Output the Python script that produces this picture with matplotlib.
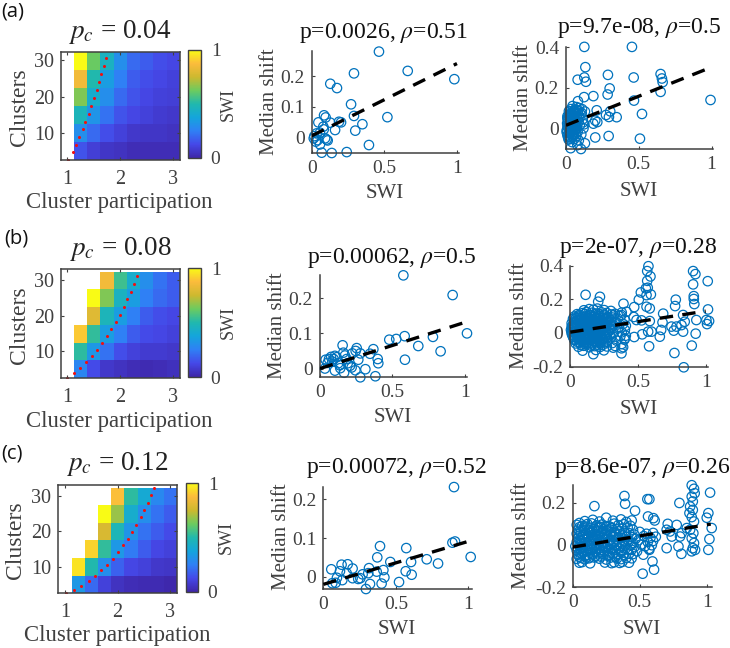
import matplotlib
matplotlib.use('Agg')
import matplotlib.pyplot as plt
from matplotlib.colors import LinearSegmentedColormap
import numpy as np

plt.rcParams['font.family'] = ['Liberation Serif', 'DejaVu Serif']
plt.rcParams['mathtext.fontset'] = 'stix'

W, H = 730, 648
nan = np.nan
parula = LinearSegmentedColormap.from_list('parula', [
    '#3e26a8', '#4548e8', '#2f80f5', '#14a5dc', '#20b8ae', '#6ccb5f', '#cdb92f', '#fbbb3c', '#f9fb15'])

# heatmaps, bottom row first
x_edges = [1.13, 1.38, 1.63, 1.88, 2.13, 2.38, 2.63, 2.88, 3.13]
y_edges = [2.6, 7.5, 12.5, 17.4, 22.3, 27.3, 32.2]
heat_a = [[.15, .09, .06, .05, .03, .03, .03, .03],
          [.30, .20, .14, .10, .07, .06, .06, .05],
          [.47, .32, .22, .15, .12, .10, .08, .07],
          [.65, .42, .30, .20, .15, .12, .10, .09],
          [.85, .50, .35, .25, .17, .14, .12, .10],
          [1.0, .62, .45, .30, .20, .17, .14, .12]]
heat_b = [[.27, .13, .07, .05, .03, .02, .03, .04],
          [.52, .33, .22, .14, .10, .08, .08, .07],
          [.90, .53, .35, .25, .17, .13, .12, .10],
          [nan, .80, .47, .35, .25, .17, .14, .12],
          [nan, 1.0, .65, .45, .35, .25, .20, .17],
          [nan, nan, .85, .55, .42, .30, .22, .17]]
heat_c = [[.33, .20, .10, .05, .03, .02, .02, .01],
          [.95, .50, .30, .18, .12, .10, .07, .06],
          [nan, .92, .53, .33, .24, .17, .12, .10],
          [nan, nan, .78, .48, .32, .22, .17, .13],
          [nan, nan, 1.0, .68, .42, .30, .22, .17],
          [nan, nan, nan, .88, .52, .40, .28, .22]]

# red dotted curves
red_a_x = [1.03, 1.11, 1.17, 1.23, 1.30, 1.35, 1.41, 1.46, 1.51, 1.56, 1.60, 1.65, 1.69, 1.73]
red_a_y = [2.7, 4.7, 6.8, 8.8, 11, 13.1, 15.3, 17.4, 19.6, 21.8, 24.1, 26.2, 28.4, 30.6]
red_b_x = [1.0, 1.13, 1.25, 1.36, 1.48, 1.57, 1.67, 1.76, 1.84, 1.92, 2.0, 2.07, 2.14, 2.2, 2.26, 2.32]
red_b_y = [2.65, 3.95, 5.5, 7.1, 8.8, 10.5, 12.4, 14.4, 16.3, 18.3, 20.3, 22.4, 24.5, 26.7, 28.8, 31]
red_c_x = [1.03, 1.18, 1.31, 1.45, 1.57, 1.69, 1.81, 1.92, 2.01, 2.11, 2.2, 2.28, 2.36, 2.44, 2.51, 2.57, 2.63, 2.69]
red_c_y = [2.5, 3.5, 4.6, 6, 7.4, 9, 10.6, 12.2, 14.1, 16, 17.8, 19.9, 21.8, 23.9, 25.9, 28, 30.2, 32.1]

# scatter data
a2_x = [.463, .291, .661, .982, .128, .174, .271, .085, .096, .291, .521, .046, .128, .349, .080, .188, .202,
        .161, .300, .083, .394, .069, .138, .241, .018, .034, .057, .014, .028, .057, .092, .110, .103, .041]
a2_y = [.280, .209, .217, .190, .175, .161, .108, .072, .065, .070, .066, .049, .048, .043, .035, .051, .049,
        .024, .022, .026, -.025, -.050, -.051, -.048, .004, .013, .015, -.003, -.014, -.023, -.003, -.010, -.007, -.009]

a3_x = [.126, .453, .133, .288, .650, .126, .465, .659, .080, .137, .664, .300, .124, .188, .286, .650, .467, .993,
        .082, .211, .304, .130, .275, .295, .348, .522, .201, .215, .188, .201, .293, .508, .130, .103, .032, .078,
        .005, .008, .010, .012, .015, .018, .020, .022, .025, .028, .030, .032, .035, .038, .040, .042, .045, .048,
        .050, .052, .055, .058, .060, .062, .065, .068, .070, .072, .075, .078, .080, .083, .085, .088, .090, .095,
        .100, .105, .110, .115, .120, .125, .010, .015, .020, .028, .036, .044, .052, .066, .074, .092, .108, .118,
        .005, .010, .015, .020, .025, .030, .035, .040, .045, .050, .055, .060, .065, .070, .075,
        .010, .020, .030, .040, .050, .060, .070, .015, .025, .035, .045, .055, .065, .020, .040]
a3_y = [.402, .402, .302, .264, .268, .251, .251, .246, .240, .230, .228, .197, .154, .159, .167, .180, .137, .140,
        .134, .089, .084, .083, .066, .056, .055, .071, .038, .031, .023, -.045, -.038, -.051, -.074, -.102, -.098, -.083,
        -.010, .025, -.035, .048, .005, -.055, .065, .018, -.022, .082, .032, -.045, .095, .000, .058, -.068, .110, .012,
        -.028, .075, .040, -.052, .092, -.008, .060, .022, -.040, .105, .002, .048, -.018, .085, .030, -.060, .100, .015,
        .070, -.030, .095, .045, .000, .020, .060, .038, -.015, .070, .010, -.040, .085, -.005, .090, .050, .075, .030,
        -.020, .010, .040, -.040, .030, .060, -.010, .020, -.030, .050, .000, .070, .030, -.020, .060,
        .050, -.025, .045, .005, -.010, .035, .010, -.045, .015, .075, .035, -.035, .080, .085, -.015]

b2_x = [.575, .915, 1.014, .584, .779, .526, .478, .678, .832, .586, .156, .253, .368, .345, .398, .402, .278, .223,
        .161, .172, .246, .264, .039, .076, .103, .115, .053, .126, .184, .207, .218, .136, .103, .140, .034, .244,
        .313, .166, .278, .382, .085, .062, .191, .094]
b2_y = [.265, .209, .100, .092, .090, .084, .082, .064, .049, .025, .066, .058, .055, .042, .027, .015, .043, .043,
        .045, .037, .050, .025, .025, .033, .036, .032, .016, .015, .027, .008, .003, .009, -.006, .001, .000, -.005,
        -.002, -.012, -.025, -.022, .020, .027, .015, .027]

b3_x = [.577, .907, .924, .568, .592, .568, 1.015, .907, .572, .558, .521, .595, .563, .506, .912, .912, .779, .113,
        .219, .206, .393, .774, .472, .563, .587, .916, 1.017, .686, .833, .469, .489, .526, .587, .600, .575, .681,
        .845, .931, 1.005, 1.025, 1.010, .747, .784, .821, .833, .764, .926, .671, .661, .472, .531, .582, .769, .897,
        .838, .378, .378, .317, .170, .091, .189, .248, .403, .403, .415, .378,
        .10, .14, .17, .20, .25, .30,
        .05, .09, .12, .16, .19, .23, .27, .33, .38,
        .03, .06, .09, .12, .15, .18, .21, .24, .28, .32, .37,
        .02, .05, .08, .11, .14, .17, .20, .23, .26, .30, .35, .40,
        .01, .04, .07, .10, .13, .16, .19, .22, .25, .29, .34, .39,
        .01, .03, .06, .09, .12, .15, .18, .21, .24, .27, .31, .36, .41,
        .005, .02, .05, .08, .11, .14, .17, .20, .23, .26, .30, .35,
        .01, .03, .06, .09, .12, .15, .18, .21, .24, .27, .32, .38,
        .02, .05, .08, .11, .14, .17, .20, .23, .26, .30, .37, .41,
        .03, .06, .09, .12, .15, .18, .21, .24, .28, .34, .40,
        .04, .07, .10, .13, .16, .19, .22, .25, .31, .38,
        .06, .10, .14, .18, .22, .27, .33, .39,
        .07, .11, .14, .18, .21, .25, .30,
        .04, .07, .10, .13, .16, .19, .22, .26, .31,
        .03, .06, .09, .12, .15, .18, .21, .24, .28, .33,
        .02, .05, .08, .11, .14, .17, .20, .23, .27, .32,
        .015, .04, .07, .10, .13, .16, .19, .22, .25, .29,
        .01, .035, .065, .095, .125, .155, .185, .215, .245, .28,
        .015, .04, .07, .10, .13, .16, .19, .22, .25, .29,
        .025, .055, .085, .115, .145, .175, .205, .235, .27,
        .05, .08, .11, .14, .17, .20, .23, .27,
        .08, .12, .15, .20, .24]
b3_y = [.397, .368, .350, .368, .336, .310, .308, .289, .269, .265, .241, .229, .225, .198, .219, .202, .198, .227,
        .215, .186, .174, .160, .154, .156, .146, .172, .140, .115, .107, .095, .077, .075, .071, .008, .008, .063,
        .067, .077, .077, .071, .053, .038, .038, .047, .008, .014, -.004, .018, -.022, -.024, -.008, -.079, -.119, -.075,
        -.204, -.091, -.121, -.087, -.126, -.105, -.101, -.103, -.032, .018, .126, .107,
        .135, .142, .138, .145, .136, .131,
        .112, .118, .125, .120, .116, .123, .119, .114, .121,
        .098, .104, .095, .101, .106, .097, .103, .099, .094, .105, .100,
        .084, .078, .082, .076, .085, .079, .083, .077, .081, .075, .086, .080,
        .058, .063, .056, .062, .059, .064, .055, .061, .057, .065, .060, .054,
        .038, .043, .036, .041, .044, .037, .042, .035, .040, .045, .039, .034, .043,
        .018, .024, .016, .022, .019, .025, .017, .023, .021, .015, .020, .026,
        -.003, .004, -.005, .002, -.001, .005, -.004, .003, .001, -.006, .000, .004,
        -.022, -.016, -.024, -.018, -.021, -.015, -.023, -.017, -.020, -.025, -.019, -.016,
        -.042, -.036, -.044, -.038, -.041, -.035, -.043, -.037, -.040, -.045, -.039,
        -.062, -.056, -.064, -.058, -.061, -.055, -.063, -.057, -.060, -.065,
        -.082, -.076, -.085, -.078, -.083, -.080, -.077, -.084,
        .108, .113, .106, .111, .114, .107, .110,
        .088, .092, .086, .091, .093, .087, .090, .089, .092,
        .068, .072, .066, .071, .073, .067, .070, .069, .072, .066,
        .048, .052, .046, .051, .053, .047, .050, .049, .052, .046,
        .028, .032, .026, .031, .033, .027, .030, .029, .032, .026,
        .008, .012, .006, .011, .013, .007, .010, .009, .012, .006,
        -.012, -.008, -.014, -.009, -.007, -.013, -.010, -.011, -.008, -.014,
        -.032, -.028, -.034, -.029, -.027, -.033, -.030, -.031, -.028,
        -.052, -.048, -.054, -.049, -.047, -.053, -.050, -.051,
        -.072, -.068, -.074, -.069, -.071]

c2_x = [.901, .908, .890, .391, .572, 1.016, .372, .713, .791, .462, .605, .568, .609, .522, .055, .126, .168, .202,
        .315, .115, .161, .414, .368, .310, .421, .271, .202, .094, .131, .241, .255, .062, .085, .322, .402, .294]
c2_y = [.232, .091, .088, .079, .074, .051, .050, .045, .034, .038, .038, .014, .005, -.014, .019, .031, .032, .021,
        .022, .014, .009, .017, .013, .009, -.002, .006, -.004, -.003, -.009, -.006, -.004, -.017, -.016, -.019, -.018, -.032]

c3_x = [.888, .905, .910, 1.025, .386, .391, .557, .572, .796, .162, .465, 1.012, 1.0, .562, .602, .612,
        .888, .896, .876, .896, .871, .888, .905, .709, .776, 1.037, 1.02, 1.012, .701, .789, .811, .522, .607, .595,
        .527, .572, .900, .888, .905, .896, .913, .888, .701, .739, .726, .813, .801, .851, .876,
        .05, .09, .15, .20, .25, .30, .36, .40, .44,
        .03, .07, .11, .14, .18, .22, .27, .31, .34, .38, .43,
        .04, .08, .12, .16, .19, .23, .26, .29, .33, .37, .41, .45,
        .03, .06, .10, .13, .17, .21, .24, .28, .32, .35, .39, .42, .46, .50, .55, .60,
        .04, .07, .11, .15, .18, .22, .25, .30, .34, .37, .40, .44, .47, .53, .58, .62,
        .03, .06, .09, .12, .16, .20, .23, .27, .31, .35, .38, .42, .45, .49, .56, .60,
        .02, .05, .08, .13, .17, .21, .24, .28, .33, .36, .39, .43, .46, .51, .54, .59,
        .03, .06, .10, .14, .18, .22, .26, .29, .32, .37, .41, .44, .48, .57,
        .04, .07, .11, .15, .19, .23, .27, .30, .34, .38, .42, .45,
        .03, .06, .09, .12, .16, .20, .25, .28, .33, .36, .40, .44,
        .05, .07, .13, .24, .29, .31, .35, .37, .42,
        .05, .09, .13, .17, .21, .25, .29,
        .05, .09, .14, .18, .22, .25, .31, .35,
        .05, .08, .12, .15, .19, .23, .26, .30, .37,
        .05, .08, .13, .17, .20, .24, .28, .33, .41,
        .04, .07, .11, .15, .19, .22, .26, .30, .37, .44,
        .04, .07, .12, .16, .20, .25, .27, .31, .35,
        .05, .08, .13, .17, .21, .24, .28, .36,
        .05, .09, .13, .17, .21, .26, .32]
c3_y = [.282, .265, .244, .247, .231, .194, .216, .216, .198, .183, .161, .150, .128, .134, .126, .115,
        .228, .205, .181, .165, .150, .131, .110, .099, .094, .079, .027, -.024, -.016, -.008, -.043, -.137, -.118, -.079,
        -.047, -.024, .055, .031, .008, -.016, -.024, -.031, .071, .039, .063, .055, .039, .079, .071,
        .103, .112, .118, .110, .128, .114, .120, .108, .115,
        .094, .089, .098, .101, .092, .096, .088, .100, .093, .097, .090,
        .072, .078, .070, .076, .081, .074, .069, .079, .073, .077, .082, .071,
        .052, .058, .050, .056, .060, .053, .049, .059, .054, .051, .057, .055, .048, .061, .052, .056,
        .033, .038, .031, .036, .040, .034, .030, .039, .035, .032, .037, .036, .029, .041, .033, .038,
        .013, .018, .011, .016, .020, .014, .010, .019, .015, .012, .017, .016, .009, .021, .013, .018,
        -.007, -.002, -.009, -.004, .000, -.006, -.010, -.001, -.005, -.008, -.003, -.004, -.011, .001, -.007, -.002,
        -.027, -.022, -.029, -.024, -.020, -.026, -.030, -.021, -.025, -.028, -.023, -.024, -.031, -.019,
        -.047, -.042, -.049, -.044, -.040, -.046, -.050, -.041, -.045, -.048, -.043, -.044,
        -.067, -.062, -.069, -.064, -.060, -.066, -.070, -.061, -.065, -.068, -.063, -.064,
        -.085, -.082, -.088, -.084, -.087, -.083, -.086, -.081, -.085,
        .083, .087, .081, .086, .084, .088, .082,
        .063, .067, .061, .066, .064, .068, .062, .065,
        .043, .047, .041, .046, .044, .048, .042, .045, .043,
        .023, .027, .021, .026, .024, .028, .022, .025, .023,
        .003, .007, .001, .006, .004, .008, .002, .005, .003, .006,
        -.017, -.013, -.019, -.014, -.016, -.012, -.018, -.015, -.017,
        -.037, -.033, -.039, -.034, -.036, -.032, -.038, -.035,
        -.057, -.053, -.059, -.054, -.056, -.052, -.058]

# fit lines
a2_fit = ([0, 1.0], [.005, .241])
a3_fit = ([0, 1.0], [.015, .302])
b2_fit = ([0, 1.005], [.0, .132])
b3_fit = ([0, 1.0], [.005, .13])
c2_fit = ([0, 1.005], [-.02, .092])
c3_fit = ([0, 1.03], [-.011, .098])

GREY = '#404040'
BLUE = '#0072BD'

fig = plt.figure(figsize=(W / 100, H / 100), dpi=100)


def px_axes(l, t, r, b):
    return fig.add_axes([l / W, 1 - b / H, (r - l) / W, (b - t) / H])


def px_text(x, y, s, size, color=GREY, rot=0, **kw):
    fig.text(x / W, 1 - y / H, s, fontsize=size, color=color, rotation=rot,
             ha=kw.pop('ha', 'center'), va='center', **kw)


def heat_panel(rect, ylim, xlim, heat, rx, ry, cbar_rect, title, title_pos, xl_pos, yl_pos, cb_pos):
    ax = px_axes(*rect)
    mesh = ax.pcolormesh(x_edges, y_edges, np.array(heat), cmap=parula, vmin=0, vmax=1)
    ax.plot(rx, ry, linestyle='none', marker='o', ms=2.2, mew=0, color='#f01010')
    ax.set_xlim(*xlim)
    ax.set_ylim(*ylim)
    ax.set_xticks([1, 2, 3])
    ax.set_yticks([10, 20, 30])
    ax.tick_params(direction='in', length=2, width=.8, color=GREY, labelcolor=GREY,
                   labelsize=14.5, top=True, right=True, pad=7)
    ax.tick_params(axis='y', pad=5)
    for s in ax.spines.values():
        s.set_color(GREY)
        s.set_linewidth(1.1)
    cax = px_axes(*cbar_rect)
    cb = fig.colorbar(mesh, cax=cax, ticks=[0, 1])
    cb.ax.tick_params(length=0, labelsize=14, labelcolor=GREY, pad=7)
    cb.outline.set_edgecolor(GREY)
    cb.outline.set_linewidth(1)
    px_text(*title_pos, title, 19.5, color='#222222')
    px_text(*xl_pos, 'Cluster participation', 16.4)
    px_text(*yl_pos, 'Clusters', 17, rot=90)
    px_text(*cb_pos, 'SWI', 13, rot=90)


def scatter_panel(rect, xlim, ylim, yticks, ylabels, x, y, fit, title, title_pos, xl_pos, yl_pos):
    ax = px_axes(*rect)
    ax.scatter(x, y, s=46, facecolors='none', edgecolors=BLUE, linewidths=.9, clip_on=False, zorder=2)
    ax.plot(fit[0], fit[1], color='black', lw=2.4, linestyle=(0, (4, 2.8)), zorder=3)
    ax.set_xlim(*xlim)
    ax.set_ylim(*ylim)
    ax.set_xticks([0, .5, 1])
    ax.set_xticklabels(['0', '0.5', '1'])
    ax.set_yticks(yticks)
    ax.set_yticklabels(ylabels)
    ax.tick_params(direction='in', length=2, width=.8, color=GREY, labelcolor=GREY, labelsize=14, pad=5)
    ax.spines['top'].set_visible(False)
    ax.spines['right'].set_visible(False)
    ax.spines['left'].set_color(GREY)
    ax.spines['bottom'].set_color(GREY)
    ax.spines['left'].set_linewidth(1.1)
    ax.spines['bottom'].set_linewidth(1.1)
    px_text(*title_pos, title, 17, color='#111111')
    px_text(*xl_pos, 'SWI', 15)
    px_text(*yl_pos, 'Median shift', 15, rot=90)


heat_panel((61, 52, 180, 160), (2.6, 32.2), (.89, 3.13), heat_a, red_a_x, red_a_y, (188, 50, 201, 158),
           r'$p_c$ = 0.04', (120, 32), (119, 203), (19, 107), (228, 104))
heat_panel((61, 269, 180, 378), (2.6, 33), (.89, 3.13), heat_b, red_b_x, red_b_y, (188, 268, 201, 377),
           r'$p_c$ = 0.08', (120, 249), (119, 421), (19, 325), (228, 322))
heat_panel((58, 485, 177, 593), (2.6, 33), (.87, 3.13), heat_c, red_c_x, red_c_y, (186, 483, 198, 592),
           r'$p_c$ = 0.12', (117, 464), (117, 636), (16, 540), (226, 537))

scatter_panel((311.7, 50.7, 459, 153.3), (0, 1.014), (-.052, .283), [0, .1, .2], ['0', '0.1', '0.2'],
              a2_x, a2_y, a2_fit, r'p=0.0026, $\rho$=0.51', (384, 33), (385, 194), (269, 102))
scatter_panel((566, 47.3, 713, 149), (0, 1.01), (-.102, .4), [0, .2, .4], ['0', '0.2', '0.4'],
              a3_x, a3_y, a3_fit, r'p=9.7e-08, $\rho$=0.5', (639, 28), (639, 191), (523, 98))
scatter_panel((320, 275, 466.7, 377.3), (0, 1.012), (-.025, .266), [0, .1, .2], ['0', '0.1', '0.2'],
              b2_x, b2_y, b2_fit, r'p=0.00062, $\rho$=0.5', (392, 258), (393, 418), (277, 326))
scatter_panel((570.3, 265.7, 708, 367.3), (0, 1.017), (-.204, .4), [-.2, 0, .2, .4], ['-0.2', '0', '0.2', '0.4'],
              b3_x, b3_y, b3_fit, r'p=2e-07, $\rho$=0.28', (638, 248), (639, 409), (519, 316))
scatter_panel((323.3, 486.7, 471.7, 589), (0, 1.023), (-.032, .233), [0, .1, .2], ['0', '0.1', '0.2'],
              c2_x, c2_y, c2_fit, r'p=0.00072, $\rho$=0.52', (396, 468), (397, 630), (281, 537))
scatter_panel((572.7, 485, 711.7, 587), (0, 1.037), (-.2, .283), [-.2, 0, .2], ['-0.2', '0', '0.2'],
              c3_x, c3_y, c3_fit, r'p=8.6e-07, $\rho$=0.26', (642, 468), (642, 629), (522, 536))

# panel letters
for s, x, y in [('(a)', 1, 12), ('(b)', 4, 238), ('(c)', 1, 453)]:
    fig.text(x / W, 1 - y / H, s, fontsize=14.5, family='Open Sans', color='#111111', ha='left', va='center')

fig.savefig('out.png', dpi=100)
